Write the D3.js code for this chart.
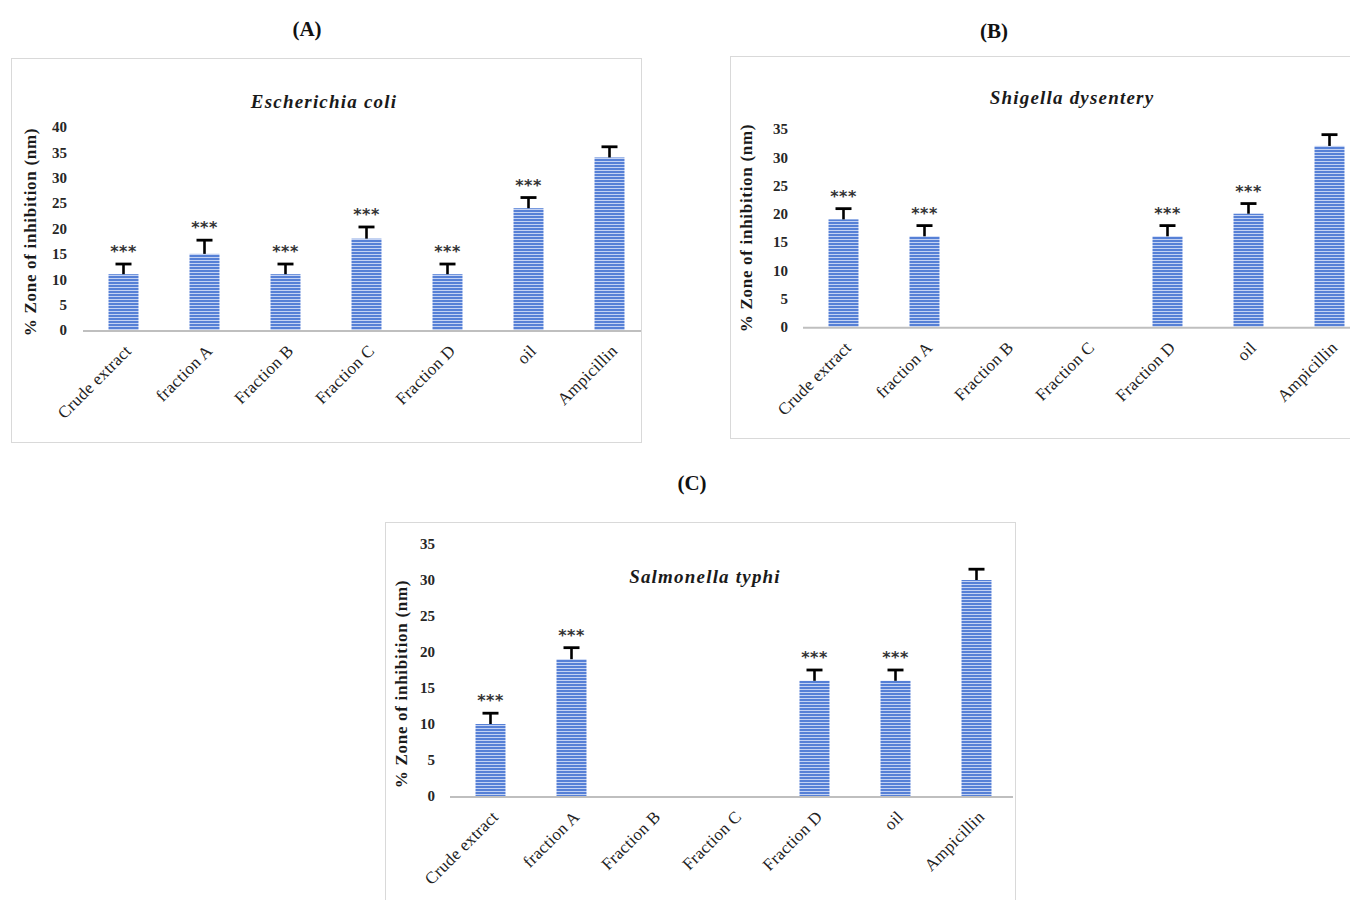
<!DOCTYPE html>
<html>
<head>
<meta charset="utf-8">
<script src="https://cdn.jsdelivr.net/npm/d3@7"></script>
<style>
  html, body { margin: 0; padding: 0; background: #fff; }
  svg { display: block; }
</style>
</head>
<body>
<svg id="chart" width="1350" height="900"></svg>
<script>
// Treatments tested against each organism
const categories = ["Crude extract", "fraction A", "Fraction B", "Fraction C", "Fraction D", "oil", "Ampicillin"];

// Escherichia coli
const ecoliValues = [11, 15, 11, 18, 11, 24, 34];
const ecoliErrors = [2, 2.7, 2, 2.3, 2, 2.1, 2.1];
const ecoliSig    = ["***", "***", "***", "***", "***", "***", ""];
const ecoliTicks  = [0, 5, 10, 15, 20, 25, 30, 35, 40];

// Shigella dysentery
const shigellaValues = [19, 16, 0, 0, 16, 20, 32];
const shigellaErrors = [1.9, 1.9, 0, 0, 1.9, 1.8, 2];
const shigellaSig    = ["***", "***", "", "", "***", "***", ""];
const shigellaTicks  = [0, 5, 10, 15, 20, 25, 30, 35];

// Salmonella typhi
const salmonellaValues = [10, 19, 0, 0, 16, 16, 30];
const salmonellaErrors = [1.5, 1.6, 0, 0, 1.5, 1.5, 1.5];
const salmonellaSig    = ["***", "***", "", "", "***", "***", ""];
const salmonellaTicks  = [0, 5, 10, 15, 20, 25, 30, 35];

const yAxisTitle = "% Zone of inhibition (nm)";

const svg = d3.select("#chart");
const SERIF = "'Liberation Serif', 'DejaVu Serif', serif";

// horizontal-stripe fill used by every bar
const defs = svg.append("defs");
const pat = defs.append("pattern")
  .attr("id", "stripes")
  .attr("patternUnits", "userSpaceOnUse")
  .attr("width", 6).attr("height", 3);
pat.append("rect").attr("width", 6).attr("height", 3).attr("fill", "#5680d6");
pat.append("rect").attr("y", 2).attr("width", 6).attr("height", 1).attr("fill", "#c3d2f3");

// panel layouts
const panels = [
  {
    letter: "(A)", letterX: 307, letterY: 29,
    box: [11, 58, 630, 384],
    title: "Escherichia coli", titleX: 324, titleY: 101,
    values: ecoliValues, errors: ecoliErrors, sig: ecoliSig, ticks: ecoliTicks,
    yMax: 40, y0: 330, yTop: 127, x0: 83, xEnd: 641,
    tickRight: 67, yTitleX: 30, yTitleY: 232
  },
  {
    letter: "(B)", letterX: 994, letterY: 31,
    box: [730, 56, 640, 382],
    title: "Shigella dysentery", titleX: 1072, titleY: 97,
    values: shigellaValues, errors: shigellaErrors, sig: shigellaSig, ticks: shigellaTicks,
    yMax: 35, y0: 326.7, yTop: 129, x0: 803, xEnd: 1350,
    tickRight: 788, yTitleX: 746, yTitleY: 228
  },
  {
    letter: "(C)", letterX: 692, letterY: 483,
    box: [385, 522, 630, 400],
    title: "Salmonella typhi", titleX: 705, titleY: 576,
    values: salmonellaValues, errors: salmonellaErrors, sig: salmonellaSig, ticks: salmonellaTicks,
    yMax: 35, y0: 796, yTop: 544, x0: 450, xEnd: 1013,
    tickRight: 435, yTitleX: 401, yTitleY: 684
  }
];

panels.forEach(p => {
  // panel letter
  svg.append("text")
    .attr("x", p.letterX).attr("y", p.letterY)
    .attr("text-anchor", "middle").attr("dominant-baseline", "central")
    .attr("font-family", SERIF).attr("font-weight", "bold").attr("font-size", 21)
    .attr("fill", "#111")
    .text(p.letter);

  // frame
  svg.append("rect")
    .attr("x", p.box[0] + 0.5).attr("y", p.box[1] + 0.5)
    .attr("width", p.box[2]).attr("height", p.box[3])
    .attr("fill", "none").attr("stroke", "#d9d9d9").attr("stroke-width", 1);

  const g = svg.append("g");

  const x = d3.scaleBand()
    .domain(categories)
    .range([p.x0, p.x0 + 81 * categories.length])
    .paddingInner(0.63).paddingOuter(0.315);
  const y = d3.scaleLinear().domain([0, p.yMax]).range([p.y0, p.yTop]);

  // chart title
  g.append("text")
    .attr("x", p.titleX).attr("y", p.titleY)
    .attr("text-anchor", "middle").attr("dominant-baseline", "central")
    .attr("font-family", SERIF).attr("font-weight", "bold").attr("font-style", "italic")
    .attr("font-size", 19).attr("letter-spacing", 1.2).attr("fill", "#1a1a1a")
    .text(p.title);

  // y tick labels
  const yAxis = d3.axisLeft(y).tickValues(p.ticks).tickSize(0).tickPadding(0);
  const ya = g.append("g").attr("transform", `translate(${p.tickRight},0)`).call(yAxis);
  ya.select(".domain").remove();
  ya.selectAll("text")
    .attr("font-family", SERIF).attr("font-weight", "bold").attr("font-size", 15)
    .attr("fill", "#262626");

  // y axis title
  g.append("text")
    .attr("transform", `translate(${p.yTitleX},${p.yTitleY}) rotate(-90)`)
    .attr("text-anchor", "middle").attr("dominant-baseline", "central")
    .attr("font-family", SERIF).attr("font-weight", "bold").attr("font-size", 17)
    .attr("letter-spacing", 0.7).attr("fill", "#1a1a1a")
    .text(yAxisTitle);

  const rows = categories.map((c, i) => ({ c, v: p.values[i], e: p.errors[i], s: p.sig[i] }));
  const shown = rows.filter(d => d.v > 0);

  // bars
  g.selectAll(".bar").data(shown).enter().append("rect")
    .attr("x", d => x(d.c))
    .attr("y", d => y(d.v))
    .attr("width", x.bandwidth())
    .attr("height", d => y(0) - y(d.v))
    .attr("fill", "url(#stripes)");

  // baseline
  g.append("line")
    .attr("x1", p.x0).attr("x2", p.xEnd)
    .attr("y1", p.y0 + 1).attr("y2", p.y0 + 1)
    .attr("stroke", "#bfbfbf").attr("stroke-width", 2);

  // error bars (upper)
  const cx = d => x(d.c) + x.bandwidth() / 2;
  g.selectAll(".err").data(shown).enter().append("line")
    .attr("x1", cx).attr("x2", cx)
    .attr("y1", d => y(d.v)).attr("y2", d => y(d.v + d.e))
    .attr("stroke", "#000").attr("stroke-width", 2.6);
  g.selectAll(".cap").data(shown).enter().append("line")
    .attr("x1", d => cx(d) - 8).attr("x2", d => cx(d) + 8)
    .attr("y1", d => y(d.v + d.e)).attr("y2", d => y(d.v + d.e))
    .attr("stroke", "#000").attr("stroke-width", 2.8);

  // significance marks
  g.selectAll(".sig").data(shown.filter(d => d.s)).enter().append("text")
    .attr("x", cx)
    .attr("y", d => y(d.v + d.e) - 7)
    .attr("text-anchor", "middle")
    .attr("font-family", "'DejaVu Sans', sans-serif").attr("font-weight", "bold").attr("font-size", 16)
    .attr("letter-spacing", 0.5).attr("fill", "#333")
    .text(d => d.s);

  // category labels, rotated
  g.selectAll(".xl").data(categories).enter().append("text")
    .attr("transform", c => `translate(${x(c) + x.bandwidth() / 2 + 5},${p.y0 + 18}) rotate(-45)`)
    .attr("text-anchor", "end").attr("dominant-baseline", "central")
    .attr("font-family", SERIF).attr("font-size", 17).attr("letter-spacing", 0.3).attr("fill", "#222")
    .text(c => c);
});
</script>
</body>
</html>
